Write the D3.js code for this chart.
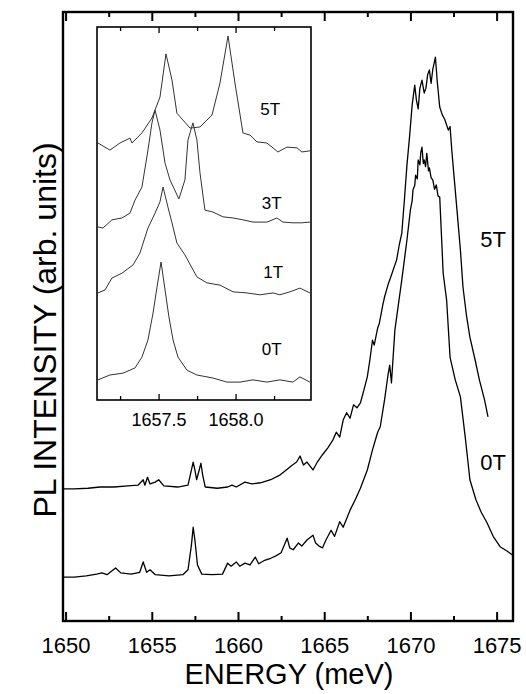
<!DOCTYPE html>
<html>
<head>
<meta charset="utf-8">
<script src="https://cdn.jsdelivr.net/npm/d3@7"></script>
<style>
  body { margin: 0; background: #fff; }
  svg text { font-family: "Liberation Sans", Arial, sans-serif; fill: #000; }
</style>
</head>
<body>
<div id="chart"></div>
<script>
// ---- main panel data: [energy (meV), PL intensity (arb. units, offset included)]
const trace0T = [
  [1649.85, 7.2], [1650.5, 7.2], [1651.2, 7.4], [1651.8, 7.7], [1652.1, 7.9], [1652.4, 7.6],
  [1652.9, 8.7], [1653.2, 7.9], [1653.8, 7.7], [1654.3, 8.0], [1654.5, 9.7], [1654.7, 8.0],
  [1654.9, 8.4], [1655.2, 7.6], [1656.0, 7.4], [1656.8, 7.6], [1657.1, 8.4], [1657.3, 12.5],
  [1657.4, 15.4], [1657.5, 13.3], [1657.65, 9.2], [1657.9, 7.7], [1658.5, 7.6], [1659.1, 7.7],
  [1659.4, 9.5], [1659.6, 9.0], [1659.9, 9.7], [1660.1, 9.0], [1660.4, 9.5], [1660.7, 9.2],
  [1661.0, 10.5], [1661.2, 9.4], [1661.5, 9.9], [1661.9, 10.3], [1662.2, 10.7], [1662.5, 11.2],
  [1662.85, 13.6], [1663.0, 12.0], [1663.2, 11.7], [1663.5, 12.8], [1663.7, 12.3], [1664.0, 13.3],
  [1664.35, 14.1], [1664.5, 12.8], [1664.7, 12.3], [1664.9, 12.0], [1665.1, 13.3], [1665.4, 14.9],
  [1665.6, 13.9], [1665.9, 16.3], [1666.1, 15.4], [1666.5, 18.2], [1666.8, 19.9], [1667.1, 21.8],
  [1667.5, 24.8], [1667.8, 28.1], [1668.1, 31.0], [1668.25, 31.9], [1668.5, 36.3], [1668.7, 40.4],
  [1668.8, 42.0], [1668.9, 39.1], [1669.1, 47.8], [1669.3, 51.9], [1669.5, 56.0], [1669.65, 59.3],
  [1669.8, 62.6], [1670.0, 67.5], [1670.1, 69.0], [1670.15, 70.8], [1670.25, 71.5], [1670.3, 73.2],
  [1670.4, 72.6], [1670.45, 75.7], [1670.55, 74.9], [1670.6, 76.9], [1670.67, 77.8], [1670.75, 75.1],
  [1670.8, 75.7], [1670.88, 74.6], [1670.95, 76.8], [1671.05, 73.9], [1671.1, 74.4], [1671.2, 72.8],
  [1671.3, 72.4], [1671.4, 70.9], [1671.5, 71.6], [1671.6, 69.8], [1671.7, 69.6], [1671.8, 63.4],
  [1671.9, 57.1], [1672.1, 52.7], [1672.3, 43.3], [1672.6, 39.6], [1672.9, 36.8], [1673.2, 29.7],
  [1673.45, 23.2], [1673.8, 19.9], [1674.1, 17.9], [1674.45, 16.1], [1674.8, 13.9], [1675.2, 12.2],
  [1675.6, 11.5], [1675.94, 10.8]
];

const trace5T = [
  [1649.85, 21.7], [1650.5, 21.7], [1651.3, 21.8], [1652.0, 22.0], [1652.8, 22.0], [1653.6, 22.2],
  [1654.2, 22.3], [1654.5, 23.2], [1654.6, 22.3], [1654.75, 23.6], [1654.9, 22.5], [1655.2, 22.8],
  [1655.4, 23.2], [1655.7, 22.2], [1656.5, 22.0], [1657.1, 22.3], [1657.3, 24.8], [1657.4, 26.1],
  [1657.5, 24.8], [1657.6, 23.2], [1657.75, 24.8], [1657.85, 25.9], [1657.95, 24.0], [1658.1, 22.0],
  [1658.8, 21.8], [1659.4, 22.0], [1659.65, 22.3], [1659.9, 22.0], [1660.4, 22.8], [1660.8, 22.5],
  [1661.3, 22.7], [1661.9, 23.2], [1662.45, 24.0], [1662.8, 24.8], [1663.1, 25.5], [1663.4, 26.1],
  [1663.6, 27.1], [1663.8, 25.6], [1664.0, 26.1], [1664.35, 24.8], [1664.6, 26.1], [1664.9, 27.3],
  [1665.2, 28.4], [1665.5, 29.7], [1665.7, 31.0], [1665.9, 30.2], [1666.1, 33.0], [1666.3, 34.2],
  [1666.5, 33.3], [1666.7, 35.5], [1666.9, 35.0], [1667.1, 35.8], [1667.3, 37.9], [1667.5, 40.1],
  [1667.65, 42.9], [1667.8, 46.1], [1667.9, 45.3], [1668.1, 48.1], [1668.2, 48.9], [1668.4, 51.9],
  [1668.5, 53.2], [1668.7, 55.2], [1668.9, 56.8], [1669.2, 59.3], [1669.35, 61.7], [1669.5, 63.7],
  [1669.65, 69.1], [1669.8, 74.9], [1669.95, 79.5], [1670.1, 84.7], [1670.25, 88.0], [1670.35, 85.5],
  [1670.45, 84.1], [1670.55, 87.5], [1670.67, 88.8], [1670.8, 86.7], [1670.9, 87.5], [1671.0, 89.7],
  [1671.1, 90.5], [1671.2, 88.3], [1671.3, 90.6], [1671.45, 92.6], [1671.55, 88.8], [1671.7, 84.4],
  [1671.85, 83.1], [1672.0, 82.3], [1672.2, 80.6], [1672.3, 81.2], [1672.4, 77.3], [1672.55, 72.4],
  [1672.7, 67.5], [1672.9, 60.9], [1673.05, 54.8], [1673.25, 50.2], [1673.45, 46.6], [1673.75, 42.9],
  [1674.0, 39.6], [1674.3, 36.3], [1674.5, 33.5]
];

// ---- inset data (zoom on the 1657.5 meV line)
const inset0T = [
  [1657.106, 5.4], [1657.184, 6.7], [1657.269, 7.2], [1657.347, 8.6], [1657.392, 11.5], [1657.431, 16.1],
  [1657.464, 23.3], [1657.490, 30.3], [1657.516, 37.0], [1657.542, 29.5], [1657.567, 22.3], [1657.594, 16.1],
  [1657.626, 11.5], [1657.684, 8.0], [1657.749, 6.7], [1657.853, 5.9], [1657.944, 4.8], [1658.029, 4.8],
  [1658.113, 5.4], [1658.204, 4.8], [1658.288, 5.4], [1658.373, 4.8], [1658.418, 6.2], [1658.483, 4.8]
];
const inset1T = [
  [1657.106, 28.7], [1657.152, 29.5], [1657.197, 32.7], [1657.262, 34.0], [1657.334, 36.2], [1657.379, 39.4],
  [1657.431, 46.1], [1657.477, 50.1], [1657.509, 53.1], [1657.529, 57.1], [1657.561, 51.7], [1657.587, 47.5],
  [1657.619, 42.1], [1657.671, 38.9], [1657.749, 33.0], [1657.814, 31.4], [1657.899, 30.8], [1657.983, 29.0],
  [1658.074, 28.7], [1658.158, 28.2], [1658.243, 28.7], [1658.288, 28.2], [1658.353, 29.0], [1658.418, 30.0],
  [1658.483, 28.7]
];
const inset3T = [
  [1657.106, 46.4], [1657.139, 46.1], [1657.197, 48.3], [1657.262, 48.8], [1657.314, 50.1], [1657.347, 53.6],
  [1657.392, 57.1], [1657.431, 67.0], [1657.457, 74.3], [1657.477, 77.7], [1657.509, 72.4], [1657.542, 63.5],
  [1657.574, 59.0], [1657.632, 53.9], [1657.671, 59.0], [1657.691, 69.7], [1657.723, 74.3], [1657.749, 69.7],
  [1657.769, 60.9], [1657.801, 50.9], [1657.853, 50.4], [1657.918, 49.1], [1657.983, 48.8], [1658.048, 48.3],
  [1658.113, 47.7], [1658.204, 47.7], [1658.269, 48.8], [1658.308, 47.7], [1658.373, 47.5], [1658.431, 47.5],
  [1658.483, 47.7]
];
const inset5T = [
  [1657.106, 68.9], [1657.184, 67.0], [1657.249, 68.9], [1657.314, 70.2], [1657.327, 68.9], [1657.392, 71.6],
  [1657.457, 75.6], [1657.509, 81.2], [1657.548, 92.8], [1657.587, 85.8], [1657.619, 76.9], [1657.704, 72.9],
  [1657.769, 73.2], [1657.847, 76.4], [1657.899, 85.0], [1657.951, 97.6], [1657.996, 85.0], [1658.048, 71.6],
  [1658.094, 71.0], [1658.139, 69.2], [1658.204, 68.9], [1658.275, 66.5], [1658.334, 67.8], [1658.399, 67.6],
  [1658.431, 66.5], [1658.483, 66.8]
];

const mainMajorTicks = [1650, 1655, 1660, 1665, 1670, 1675];
const mainMinorTicks = [1652.5, 1657.5, 1662.5, 1667.5, 1672.5];
const insetMajorTicks = [1657.5, 1658.0];
const insetMinorTicks = [1657.25, 1657.75, 1658.25];

const mainLabels = [
  { text: '5T', e: 1674.05, v: 61.4 },
  { text: '0T', e: 1674.05, v: 24.8 }
];
const insetLabels = [
  { text: '5T', e: 1658.16, v: 76.4 },
  { text: '3T', e: 1658.17, v: 51.2 },
  { text: '1T', e: 1658.18, v: 32.7 },
  { text: '0T', e: 1658.17, v: 12.1 }
];

// ---- layout
const W = 526, H = 694;
const main = { left: 63, right: 513, top: 12, bottom: 621 };
const inset = { left: 97, right: 311, top: 27, bottom: 400 };

const svg = d3.select('#chart').append('svg')
  .attr('width', W)
  .attr('height', H);

// scales
const x = d3.scaleLinear().domain([1649.85, 1675.95]).range([main.left, main.right]);
const y = d3.scaleLinear().domain([0, 100]).range([main.bottom, main.top]);
const xi = d3.scaleLinear().domain([1657.1, 1658.49]).range([inset.left, inset.right]);
const yi = d3.scaleLinear().domain([0, 100]).range([inset.bottom, inset.top]);

const line = d3.line().x(d => x(d[0])).y(d => y(d[1]));
const lineInset = d3.line().x(d => xi(d[0])).y(d => yi(d[1]));

// main traces
[trace5T, trace0T].forEach(t => {
  svg.append('path')
    .datum(t)
    .attr('d', line)
    .attr('fill', 'none')
    .attr('stroke', '#000')
    .attr('stroke-width', 1.3)
    .attr('stroke-linejoin', 'round');
});

// axes with inward ticks (negative tick size)
function addTicks(g, axisFn, scale, values, size, labels, fontSize, pad, width) {
  const a = axisFn(scale).tickValues(values).tickSize(-size).tickPadding(pad);
  a.tickFormat(labels ? labels : '');
  g.call(a);
  g.select('.domain').remove();
  g.selectAll('.tick line').attr('stroke', '#000').attr('stroke-width', width);
  g.selectAll('.tick text')
    .attr('font-size', fontSize)
    .attr('font-family', '"Liberation Sans", Arial, sans-serif')
    .attr('fill', '#000');
}

const gxB = svg.append('g').attr('transform', `translate(0,${main.bottom})`);
addTicks(gxB, d3.axisBottom, x, mainMajorTicks, 9, d3.format('d'), 22, 16, 2);
const gxBm = svg.append('g').attr('transform', `translate(0,${main.bottom})`);
addTicks(gxBm, d3.axisBottom, x, mainMinorTicks, 5, null, 22, 3, 2);
const gxT = svg.append('g').attr('transform', `translate(0,${main.top})`);
addTicks(gxT, d3.axisTop, x, mainMajorTicks, 9, null, 22, 3, 2);
const gxTm = svg.append('g').attr('transform', `translate(0,${main.top})`);
addTicks(gxTm, d3.axisTop, x, mainMinorTicks, 5, null, 22, 3, 2);

// main frame
svg.append('rect')
  .attr('x', main.left).attr('y', main.top)
  .attr('width', main.right - main.left)
  .attr('height', main.bottom - main.top)
  .attr('fill', 'none')
  .attr('stroke', '#000')
  .attr('stroke-width', 2.4);

// main curve labels
svg.selectAll('.main-label')
  .data(mainLabels)
  .enter().append('text')
  .attr('class', 'main-label')
  .attr('x', d => x(d.e))
  .attr('y', d => y(d.v))
  .attr('font-size', 22)
  .text(d => d.text);

// inset
svg.append('rect')
  .attr('x', inset.left).attr('y', inset.top)
  .attr('width', inset.right - inset.left)
  .attr('height', inset.bottom - inset.top)
  .attr('fill', '#fff');

[inset5T, inset3T, inset1T, inset0T].forEach(t => {
  svg.append('path')
    .datum(t)
    .attr('d', lineInset)
    .attr('fill', 'none')
    .attr('stroke', '#333')
    .attr('stroke-width', 1)
    .attr('stroke-linejoin', 'round');
});

const gi = svg.append('g').attr('transform', `translate(0,${inset.bottom})`);
addTicks(gi, d3.axisBottom, xi, insetMajorTicks, 6, d3.format('.1f'), 18, 13, 1.3);
const gim = svg.append('g').attr('transform', `translate(0,${inset.bottom})`);
addTicks(gim, d3.axisBottom, xi, insetMinorTicks, 4, null, 18, 3, 1.3);
const giT = svg.append('g').attr('transform', `translate(0,${inset.top})`);
addTicks(giT, d3.axisTop, xi, insetMajorTicks, 6, null, 18, 3, 1.3);
const giTm = svg.append('g').attr('transform', `translate(0,${inset.top})`);
addTicks(giTm, d3.axisTop, xi, insetMinorTicks, 4, null, 18, 3, 1.3);

svg.append('rect')
  .attr('x', inset.left).attr('y', inset.top)
  .attr('width', inset.right - inset.left)
  .attr('height', inset.bottom - inset.top)
  .attr('fill', 'none')
  .attr('stroke', '#000')
  .attr('stroke-width', 1.6);

svg.selectAll('.inset-label')
  .data(insetLabels)
  .enter().append('text')
  .attr('class', 'inset-label')
  .attr('x', d => xi(d.e))
  .attr('y', d => yi(d.v))
  .attr('font-size', 17)
  .text(d => d.text);

// axis titles
svg.append('text')
  .attr('x', (main.left + main.right) / 2 + 1)
  .attr('y', 684)
  .attr('text-anchor', 'middle')
  .attr('font-size', 29)
  .text('ENERGY (meV)');

svg.append('text')
  .attr('transform', 'translate(56,330) rotate(-90)')
  .attr('text-anchor', 'middle')
  .attr('font-size', 32)
  .text('PL INTENSITY (arb. units)');
</script>
</body>
</html>
